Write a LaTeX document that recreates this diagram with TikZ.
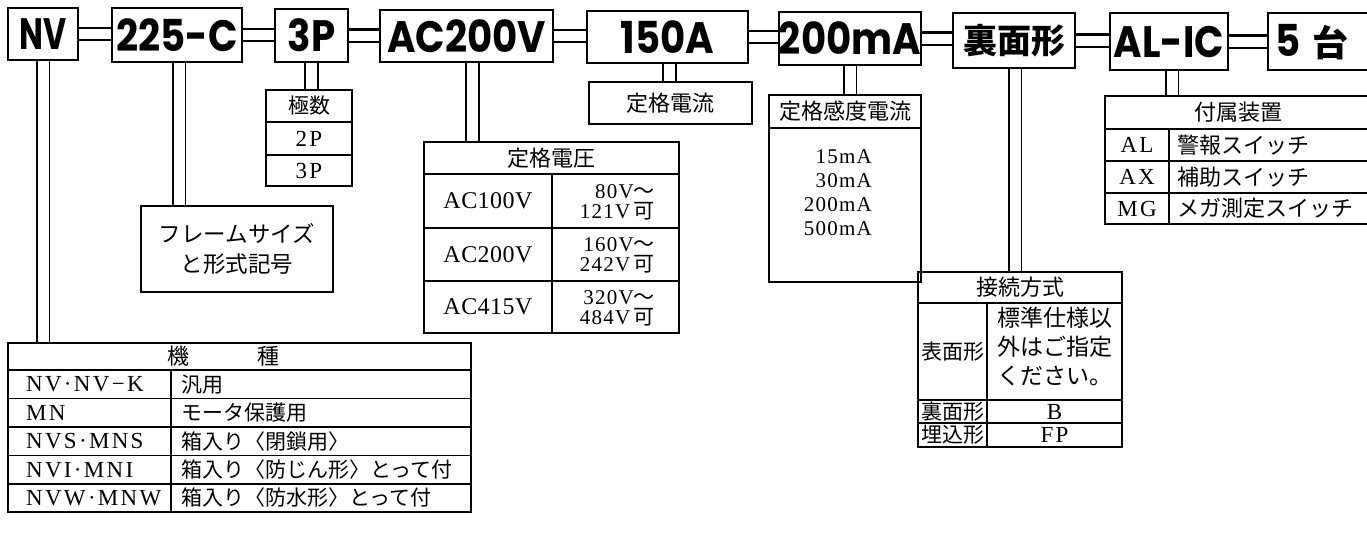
\documentclass[tikz,border=0pt]{standalone}
\usepackage{graphicx}
\usepackage{fontspec}
\setmainfont{Liberation Serif}
\newfontfamily\jp{Noto Sans CJK JP}
\newfontfamily\topf{Poppins}[FakeStretch=0.88]
\newfontfamily\lat{Liberation Serif}[LetterSpace=10]
\newfontfamily\latn{Liberation Serif}[LetterSpace=2]
\newfontfamily\lats{Liberation Serif}[LetterSpace=6]
\usetikzlibrary{backgrounds}
\tikzset{
  topbox/.style={draw, line width=2.6pt, inner sep=0pt, font=\topf\bfseries\fontsize{44}{44}\selectfont},
  jtop/.style={font=\jp\bfseries\fontsize{34}{34}\selectfont},
  hcon/.style={double distance=10pt, line width=2.4pt},
  vcon/.style={double distance=11pt, line width=1.6pt},
  tframe/.style={draw, line width=1.2pt, inner sep=0pt},
  tline/.style={line width=1.1pt},
  jt/.style={inner sep=0pt, font=\jp\fontsize{21}{26}\selectfont},
  jth/.style={inner sep=0pt, font=\jp\fontsize{22}{29}\selectfont},
  lt/.style={inner sep=0pt, font=\lat\fontsize{23}{24}\selectfont},
  ltn/.style={inner sep=0pt, font=\latn\fontsize{24}{24}\selectfont},
  lts/.style={inner sep=0pt, font=\lats\fontsize{21}{20}\selectfont},
}
\begin{document}
\begin{tikzpicture}[x=1pt,y=-1pt]
\useasboundingbox (0,0) rectangle (1367,533);
\clip (0,0) rectangle (1367,533);

% ---------- top row ----------
\node[topbox, minimum width=70pt, minimum height=52pt] (nv) at (43,34) {\scalebox{0.82}[1]{NV}};
\node[topbox, minimum width=130pt, minimum height=54pt] (c225) at (177,35) {225-C};
\node[topbox, minimum width=73pt, minimum height=53pt] (p3) at (311.5,35.5) {3P};
\node[topbox, minimum width=173pt, minimum height=52pt] (ac) at (466.5,36) {AC200V};
\node[topbox, minimum width=161pt, minimum height=52pt] (a150) at (667.5,37) {150A};
\node[topbox, minimum width=136pt, minimum height=53pt] (ma) at (850,38.5) {200mA};
\node[topbox, jtop, minimum width=122pt, minimum height=55pt] (ura) at (1014,40.5) {裏面形};
\node[topbox, minimum width=118pt, minimum height=57pt] (alic) at (1169,41.5) {AL-IC};
\node[topbox, minimum width=117pt, minimum height=57pt] (dai) at (1326.5,41.5) {};
\node[inner sep=0pt] (daiT) at (1312,42) {{\topf\bfseries\fontsize{44}{44}\selectfont 5}\hspace{12pt}{\jp\bfseries\fontsize{36}{36}\selectfont 台}};

% ---------- tables ----------
% 極数
\node[tframe, minimum width=86pt, minimum height=96pt] (kyoku) at (309,138) {};
\draw[tline] (266,122) -- (352,122);
\draw[tline] (266,155) -- (352,155);
\node[jt] (kyokuH) at (309,106) {極数};
\node[lt] (kyoku2) at (309,138.5) {2P};
\node[lt] (kyoku3) at (309,170.5) {3P};

% フレームサイズ
\node[tframe, minimum width=192pt, minimum height=86pt, align=center, font=\jp\fontsize{22.5}{30}\selectfont] (frm) at (237,249) {フレームサイズ\\と形式記号};

% 定格電圧
\node[tframe, minimum width=255pt, minimum height=191pt] (volt) at (551.5,237.5) {};
\draw[tline] (424,174) -- (679,174);
\draw[tline] (424,228) -- (679,228);
\draw[tline] (424,281) -- (679,281);
\draw[tline] (552,174) -- (552,333);
\node[jth] (voltH) at (551.5,158) {定格電圧};
\node[ltn] (v1) at (488,201) {AC100V};
\node[ltn] (v2) at (488,254.5) {AC200V};
\node[ltn] (v3) at (488,307) {AC415V};
\node[lts, align=right, anchor=east] (r1) at (655,202) {80V{\jp ～}\\121V\,{\jp 可}};
\node[lts, align=right, anchor=east] (r2) at (655,255) {160V{\jp ～}\\242V\,{\jp 可}};
\node[lts, align=right, anchor=east] (r3) at (655,308) {320V{\jp ～}\\484V\,{\jp 可}};

% 定格電流
\node[tframe, jth, minimum width=163pt, minimum height=42pt] (cur) at (670.5,103) {定格電流};

% 定格感度電流
\node[tframe, minimum width=152pt, minimum height=187pt] (sens) at (845,188.5) {};
\draw[tline] (769,128) -- (921,128);
\node[jth] (sensH) at (845,111.5) {定格感度電流};
\node[inner sep=0pt, align=right, anchor=east, font=\lats\fontsize{21}{24}\selectfont] (sensV) at (872,193) {15mA\\30mA\\200mA\\500mA};

% 接続方式
\node[tframe, minimum width=204pt, minimum height=175pt] (conn) at (1020,359.5) {};
\draw[tline] (918,303) -- (1122,303);
\draw[tline] (918,400) -- (1122,400);
\draw[tline] (918,423) -- (1122,423);
\draw[tline] (987,303) -- (987,447);
\node[jth] (connH) at (1020,287.5) {接続方式};
\node[jt] (c1) at (952.5,351.5) {表面形};
\node[inner sep=0pt, align=center, font=\jp\fontsize{23}{29}\selectfont] (c1r) at (1054.5,347) {標準仕様以\\外はご指定\\ください。};
\node[jt] (c2) at (952.5,411.5) {裏面形};
\node[lt] (c2r) at (1054.5,411.5) {B};
\node[jt] (c3) at (952.5,435) {埋込形};
\node[lt] (c3r) at (1054.5,435) {FP};

% 付属装置
\node[tframe, minimum width=275pt, minimum height=128pt] (acc) at (1242.5,160) {};
\draw[tline] (1105,129) -- (1380,129);
\draw[tline] (1105,161) -- (1380,161);
\draw[tline] (1105,193) -- (1380,193);
\draw[tline] (1169,129) -- (1169,224);
\node[jth] (accH) at (1238,112.5) {付属装置};
\node[lt] (a1) at (1137,145) {AL};
\node[lt] (a2) at (1137,177) {AX};
\node[lt] (a3) at (1137,208.5) {MG};
\node[jth, anchor=west] (a1r) at (1177,145) {警報スイッチ};
\node[jth, anchor=west] (a2r) at (1177,177) {補助スイッチ};
\node[jth, anchor=west] (a3r) at (1177,208.5) {メガ測定スイッチ};

% 機種
\node[tframe, minimum width=463pt, minimum height=169pt] (kishu) at (239.5,427.5) {};
\draw[tline] (8,370) -- (471,370);
\draw[tline] (8,398.5) -- (471,398.5);
\draw[tline] (8,427) -- (471,427);
\draw[tline] (8,455.5) -- (471,455.5);
\draw[tline] (8,484) -- (471,484);
\draw[tline] (171,370) -- (171,512);
\node[jth] (kishuH) at (223,356.5) {機\hspace{68pt}種};
\node[lt, anchor=west] (k1) at (26,384.5) {NV·NV−K};
\node[lt, anchor=west] (k2) at (26,413) {MN};
\node[lt, anchor=west] (k3) at (26,441.5) {NVS·MNS};
\node[lt, anchor=west] (k4) at (26,470) {NVI·MNI};
\node[lt, anchor=west] (k5) at (26,498) {NVW·MNW};
\node[jt, anchor=west] (k1r) at (181,384.5) {汎用};
\node[jt, anchor=west] (k2r) at (181,413) {モータ保護用};
\node[jt, anchor=west] (k3r) at (181,441.5) {箱入り〈閉鎖用〉};
\node[jt, anchor=west] (k4r) at (181,470) {箱入り〈防じん形〉とって付};
\node[jt, anchor=west] (k5r) at (181,498) {箱入り〈防水形〉とって付};

% ---------- connectors ----------
\begin{pgfonlayer}{background}
\draw[hcon] (nv.east) -- (nv.east -| c225.west);
\draw[hcon] (c225.east) -- (c225.east -| p3.west);
\draw[hcon] (p3.east) -- (p3.east -| ac.west);
\draw[hcon] (ac.east) -- (ac.east -| a150.west);
\draw[hcon] (a150.east) -- (a150.east -| ma.west);
\draw[hcon] (ma.east) -- (ma.east -| ura.west);
\draw[hcon] (ura.east) -- (ura.east -| alic.west);
\draw[hcon] (alic.east) -- (alic.east -| dai.west);
\draw[vcon] (nv.south) -- (nv.south |- kishu.north);
\draw[vcon] ([xshift=2pt]c225.south) -- ([xshift=2pt]c225.south |- frm.north);
\draw[vcon] (p3.south) -- (p3.south |- kyoku.north);
\draw[vcon] ([xshift=6pt]ac.south) -- ([xshift=6pt]ac.south |- volt.north);
\draw[vcon] ([xshift=2pt]a150.south) -- ([xshift=2pt]a150.south |- cur.north);
\draw[vcon] (ma.south) -- (ma.south |- sens.north);
\draw[vcon] ([xshift=1pt]ura.south) -- ([xshift=1pt]ura.south |- conn.north);
\draw[vcon] ([xshift=3pt]alic.south) -- ([xshift=3pt]alic.south |- acc.north);
\end{pgfonlayer}
\end{tikzpicture}
\end{document}
